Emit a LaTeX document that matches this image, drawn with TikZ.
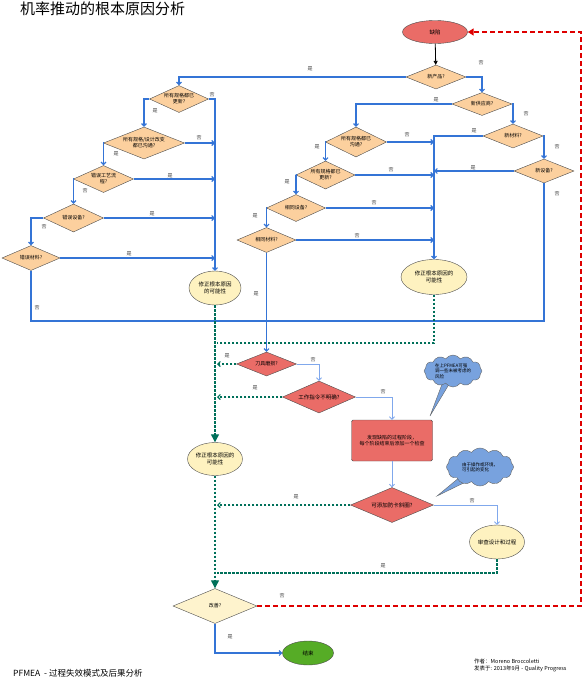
\documentclass[tikz,border=0pt]{standalone}
\usepackage{fontspec}
\setmainfont{Noto Sans CJK SC}
\usepackage{xcolor}
\usetikzlibrary{shapes.geometric,shapes.symbols,arrows.meta}

\definecolor{peach}{RGB}{252,208,158}
\definecolor{redfill}{RGB}{234,108,103}
\definecolor{creamfill}{RGB}{254,242,192}
\definecolor{palefill}{RGB}{254,243,205}
\definecolor{endgreen}{RGB}{86,172,38}
\definecolor{cloudblue}{RGB}{120,162,222}
\definecolor{flowblue}{RGB}{52,116,214}
\definecolor{lightblue}{RGB}{128,168,236}
\definecolor{teal}{RGB}{0,112,90}
\definecolor{dashred}{RGB}{222,0,0}

\begin{document}
\begin{tikzpicture}[x=1pt, y=-1pt,
    cond/.style={diamond, draw=black!70, fill=peach, inner sep=0pt, aspect=2.2, align=center, font=\fontsize{5}{6}\selectfont},
    redcond/.style={cond, fill=redfill},
    fixell/.style={ellipse, draw=black!70, fill=creamfill, inner sep=0pt, align=center, font=\fontsize{5.5}{6.8}\selectfont},
    cloudnote/.style={cloud, cloud puffs=12, cloud puff arc=110, aspect=1.9, draw=black!60, fill=cloudblue, inner sep=-3pt, align=left, font=\fontsize{4.5}{5.3}\selectfont},
    lbl/.style={inner sep=0pt, text=black!75, font=\fontsize{5}{6}\selectfont},
    flow/.style={draw=flowblue, line width=1.1pt, -{Straight Barb[length=2.5pt,width=5pt]}},
    plain/.style={draw=flowblue, line width=1.1pt},
    lflow/.style={draw=lightblue, line width=0.8pt, -{Straight Barb[length=2.5pt,width=5pt]}},
    gline/.style={draw=teal, line width=1.2pt, dash pattern=on 2.5pt off 1.5pt},
    gflow/.style={gline, -{Straight Barb[length=2.5pt,width=5pt]}, shorten >=2pt},
    rline/.style={draw=dashred, line width=2pt, dash pattern=on 5pt off 3pt, -{Triangle[length=6pt,width=7pt]}}
]
    \useasboundingbox (0,0) rectangle (584,688);

    \node[anchor=west, inner sep=0pt, font=\fontsize{15}{18}\selectfont] (title) at (20,9) {机率推动的根本原因分析};

    % top
    \node[ellipse, draw=black!70, fill=redfill, minimum width=65, minimum height=23, font=\fontsize{5.5}{6.8}\selectfont] (def) at (435,32) {缺陷};
    \node[cond, minimum width=60, minimum height=24] (m1) at (436,77) {新产品?};
    \node[cond, minimum width=60, minimum height=23] (m2) at (482,104) {新供应商?};
    \node[cond, minimum width=60, minimum height=24] (m3) at (513,136) {新材料?};
    \node[cond, minimum width=60, minimum height=24] (m4) at (544,171) {新设备?};

    % left chain
    \node[cond, minimum width=59, minimum height=27] (a1) at (179,99) {所有规格都已\\更新?};
    \node[cond, minimum width=81, minimum height=32] (a2) at (144,143) {所有规格/设计改变\\都已沟通?};
    \node[cond, minimum width=60, minimum height=27] (a3) at (103.5,179) {错误工艺流\\程?};
    \node[cond, minimum width=60, minimum height=28] (a4) at (73.5,218) {错误设备?};
    \node[cond, minimum width=58, minimum height=25] (a5) at (31,258) {错误材料?};
    \node[fixell, minimum width=52, minimum height=34] (fix1) at (215,288) {修正根本原因\\的可能性};

    % middle chain
    \node[cond, minimum width=61, minimum height=30] (b1) at (356,142) {所有规格都已\\沟通?};
    \node[cond, minimum width=59, minimum height=28] (b2) at (325.5,175) {所有规格都已\\更新?};
    \node[cond, minimum width=59, minimum height=27] (b3) at (296,208) {相同设备?};
    \node[cond, minimum width=59, minimum height=25] (b4) at (266.5,240) {相同材料?};
    \node[fixell, minimum width=66, minimum height=35] (fix2) at (434,277) {修正根本原因的\\可能性};
    \coordinate (join) at (266.5,321);

    % lower part
    \node[redcond, minimum width=60, minimum height=24] (tool) at (266.5,364) {刀具磨损?};
    \node[redcond, minimum width=73, minimum height=32, font=\fontsize{5.5}{6.5}\selectfont] (instr) at (319,397) {工作指令不明确?};
    \node[rectangle, rounded corners=1.5pt, draw=black!70, fill=redfill, minimum width=81, minimum height=41, align=center, font=\fontsize{5}{6.2}\selectfont] (box) at (392,440.5) {发现缺陷的过程阶段，\\每个阶段结束后添加一个检查};
    \node[redcond, minimum width=83, minimum height=35, font=\fontsize{5.5}{6.5}\selectfont] (poka) at (392,505) {可添加防卡斜圈?};
    \node[fixell, minimum width=55, minimum height=34] (rev) at (497,542) {审查设计和过程};
    \node[fixell, minimum width=55, minimum height=33] (fix3) at (215,459) {修正根本原因的\\可能性};
    \node[cond, fill=palefill, minimum width=84, minimum height=35] (imp) at (215,606) {改善?};
    \node[ellipse, draw=black!70, fill=endgreen, minimum width=51, minimum height=24, font=\fontsize{5.5}{6.8}\selectfont] (end) at (308,653) {结束};
    \coordinate (g1) at (217,343);
    \coordinate (g2) at (217,573);
    \coordinate (rr) at (581,0);

    % notes
    \coordinate (n1c) at (453,371);
    \coordinate (tip1) at (430,416);
    \filldraw[fill=cloudblue, draw=black!60] ([xshift=-6pt]n1c) -- (tip1) -- ([xshift=4pt]n1c) -- cycle;
    \node[cloudnote, minimum width=58, minimum height=32] (note1) at (n1c) {在上PFMEA可强\\调一些未被考虑的\\风险};
    \coordinate (n2c) at (480,467);
    \coordinate (tip2) at (437,496);
    \filldraw[fill=cloudblue, draw=black!60] ([xshift=-8pt]n2c) -- (tip2) -- ([yshift=-8pt]n2c) -- cycle;
    \node[cloudnote, minimum width=67, minimum height=38] (note2) at (n2c) {由于操作或环境，\\可引起的变化};

    % connectors
    \draw[black, line width=0.8pt, -{Triangle[length=4pt,width=4pt]}] (def) -- (m1);
    \draw[flow] (m1.west) -| (a1.north);
    \draw[flow] (m1.east) -| (m2.north);
    \draw[flow] (m2.west) -| (b1.north);
    \draw[flow] (m2.east) -| (m3.north);
    \draw[flow] (m3.west) -| (fix2.north);
    \draw[flow] (m3.east) -| (m4.north);
    \draw[flow] (m4.west) -- (m4.west -| fix2.north);
    \draw[plain] (m4.south) |- (join);

    \draw[flow] (a1.east) -| (fix1.north);
    \draw[flow] (a1.west) -| (a2.north);
    \draw[flow] (a2.east) -- (a2.east -| fix1.north);
    \draw[flow] (a2.west) -| (a3.north);
    \draw[flow] (a3.east) -- (a3.east -| fix1.north);
    \draw[flow] (a3.west) -| (a4.north);
    \draw[flow] (a4.east) -- (a4.east -| fix1.north);
    \draw[flow] (a4.west) -| (a5.north);
    \draw[flow] (a5.east) -- (a5.east -| fix1.north);
    \draw[plain] (a5.south) |- (join);

    \draw[flow] (b1.east) -- (b1.east -| fix2.north);
    \draw[flow] (b1.west) -| (b2.north);
    \draw[flow] (b2.east) -- (b2.east -| fix2.north);
    \draw[flow] (b2.west) -| (b3.north);
    \draw[flow] (b3.east) -- (b3.east -| fix2.north);
    \draw[flow] (b3.west) -| (b4.north);
    \draw[flow] (b4.east) -- (b4.east -| fix2.north);
    \draw[flow] (b4.south) -- (tool.north);

    \draw[lflow] (tool.east) -| (instr.north);
    \draw[lflow] (instr.east) -| (box.north);
    \draw[lflow] (box) -- (poka);
    \draw[lflow] (poka.east) -| (rev.north);

    \draw[gflow] (tool.west) -- (tool.west -| fix1.south);
    \draw[gflow] (instr.west) -- (instr.west -| fix1.south);
    \draw[gflow] (poka.west) -- (poka.west -| fix1.south);
    \draw[gline] (fix2.south) |- (g1);
    \draw[gline] (rev.south) |- (g2);
    \draw[gline, -{Triangle[length=8pt,width=8pt]}] (fix1) -- (fix3);
    \draw[gline, -{Triangle[length=8pt,width=8pt]}] (fix3) -- (imp);

    \draw[rline] (imp.east) -- (imp.east -| rr) |- (def.east);
    \draw[flow] (imp.south) |- (end.west);

    % yes / no labels
    \foreach \px/\py [count=\i] in {310/69, 436/100, 474/131, 473/168, 155/111, 116/154, 170/176, 152/214, 129/254,
        317/147, 287/182, 255/216, 256/294, 227/356, 255/388, 296/497, 383/566, 230/637}
        \node[lbl] (yes\i) at (\px,\py) {是};
    \foreach \px/\py [count=\i] in {481/63, 526/114, 557/147, 557/194, 212/95, 199/138, 85/191, 44/227, 37/308,
        407/135, 391/170, 374/203, 357/236, 313/360, 383/392, 472/501, 282/596}
        \node[lbl] (no\i) at (\px,\py) {否};

    \node[anchor=north west, align=left, inner sep=0pt, font=\fontsize{5.5}{7}\selectfont] (auth) at (474,659) {作者：Moreno Broccoletti\\发表于: 2013年9月 - Quality Progress};
    \node[anchor=west, inner sep=0pt, font=\fontsize{8.5}{10}\selectfont] (foot) at (13,673) {PFMEA\ \ - 过程失效模式及后果分析};
\end{tikzpicture}
\end{document}
